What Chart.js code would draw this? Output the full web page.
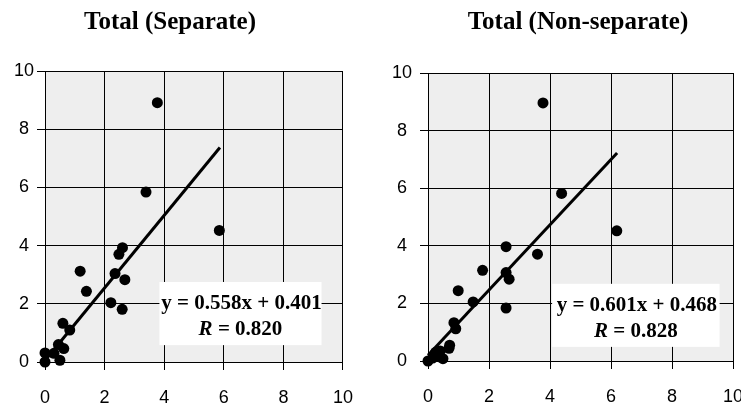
<!DOCTYPE html>
<html>
<head>
<meta charset="utf-8">
<script src="https://cdn.jsdelivr.net/npm/chart.js@4/dist/chart.umd.min.js"></script>
<style>
  html, body { margin: 0; padding: 0; background: #fff; overflow: hidden; }
  #wrap { position: relative; width: 741px; height: 403px; overflow: hidden; }
  canvas { position: absolute; top: 0; }
  #sep { left: 0; }
  #nonsep { left: 370px; }
</style>
</head>
<body>
<div id="wrap">
  <canvas id="sep" width="370" height="403"></canvas>
  <canvas id="nonsep" width="400" height="403"></canvas>
</div>
<script>
// tick values shared by both axes of both panels
const axisTicks = [0, 2, 4, 6, 8, 10];

// Total (Separate)
const sepTitle = "Total (Separate)";
const sepX = [3.77, 3.39, 5.85, 2.60, 2.48, 1.18, 2.35, 2.68, 1.39, 2.21, 2.59, 0.60, 0.83, 0.00, 0.00, 0.45, 0.63, 0.50, 0.30];
const sepY = [8.91, 5.84, 4.52, 3.93, 3.70, 3.12, 3.04, 2.83, 2.43, 2.04, 1.81, 1.33, 1.10, 0.31, 0.00, 0.60, 0.46, 0.06, 0.30];
const sepFitX = [0, 5.87];
const sepFitY = [0.05, 7.37];
const sepEquation = "y = 0.558x + 0.401";
const sepR = "0.820";

// Total (Non-separate)
const nonTitle = "Total (Non-separate)";
const nonX = [3.77, 4.38, 6.19, 2.56, 3.59, 1.79, 2.56, 2.66, 0.99, 1.48, 2.56, 0.85, 0.91, 0.71, 0.69, 0.49, 0.00, 0.25, 0.40, 0.15, 0.35];
const nonY = [8.96, 5.82, 4.52, 3.97, 3.71, 3.15, 3.07, 2.84, 2.44, 2.05, 1.84, 1.33, 1.12, 0.55, 0.44, 0.08, 0.00, 0.30, 0.35, 0.10, 0.15];
const nonFitX = [0, 6.2];
const nonFitY = [0.2, 7.22];
const nonEquation = "y = 0.601x + 0.468";
const nonR = "0.828";

const tickFont = { family: "'Liberation Sans', sans-serif", size: 18 };
const serif = "'Liberation Serif', 'Times New Roman', serif";

// grey plot background, title, and the white equation box
const panelPlugin = {
  id: "panel",
  beforeDraw(chart) {
    const a = chart.chartArea, ctx = chart.ctx;
    ctx.save();
    ctx.fillStyle = "#eeeeee";
    ctx.fillRect(a.left, a.top, a.right - a.left, a.bottom - a.top);
    ctx.restore();
  },
  afterDraw(chart, args, opts) {
    const ctx = chart.ctx;
    ctx.save();
    ctx.fillStyle = "#000";
    ctx.font = "bold 25px " + serif;
    ctx.textAlign = "center";
    ctx.textBaseline = "alphabetic";
    ctx.fillText(opts.title, opts.titleX, 29);

    const xs = chart.scales.x, ys = chart.scales.y;
    const l = xs.getPixelForValue(opts.box[0]), r = xs.getPixelForValue(opts.box[1]);
    const t = ys.getPixelForValue(opts.box[2]), b = ys.getPixelForValue(opts.box[3]);
    ctx.fillStyle = "#fff";
    ctx.fillRect(l, t, r - l, b - t);
    const cx = (l + r) / 2;
    ctx.fillStyle = "#000";
    ctx.font = "bold 21px " + serif;
    ctx.textAlign = "center";
    ctx.fillText(opts.equation, cx + 1, t + 27);
    // "R = 0.820" with italic R
    const rest = " = " + opts.r;
    ctx.font = "italic bold 21px " + serif;
    const wR = ctx.measureText("R").width;
    ctx.font = "bold 21px " + serif;
    const wRest = ctx.measureText(rest).width;
    const x0 = cx - (wR + wRest) / 2;
    ctx.textAlign = "left";
    ctx.font = "italic bold 21px " + serif;
    ctx.fillText("R", x0, t + 53);
    ctx.font = "bold 21px " + serif;
    ctx.fillText(rest, x0 + wR, t + 53);
    ctx.restore();
  }
};

function makePanel(id, xs, ys, fitX, fitY, cfg) {
  const pts = xs.map((x, i) => ({ x: x, y: ys[i] }));
  const fit = fitX.map((x, i) => ({ x: x, y: fitY[i] }));
  const axis = (extra) => Object.assign({
    type: "linear",
    min: 0,
    max: 10,
    afterBuildTicks: (s) => { s.ticks = axisTicks.map(v => ({ value: v })); },
    grid: { color: "#000", lineWidth: 1, tickLength: 8, tickColor: "#000" },
    border: { color: "#000", width: 1 },
    ticks: { color: "#000", font: tickFont }
  }, extra);

  return new Chart(document.getElementById(id), {
    type: "scatter",
    data: {
      datasets: [
        {
          data: pts,
          backgroundColor: "#000",
          borderWidth: 0,
          pointRadius: 5.5,
          clip: false
        },
        {
          type: "line",
          data: fit,
          borderColor: "#000",
          borderWidth: 3,
          pointRadius: 0,
          fill: false,
          clip: false
        }
      ]
    },
    options: {
      responsive: false,
      animation: false,
      layout: { padding: cfg.padding },
      plugins: {
        legend: { display: false },
        tooltip: { enabled: false },
        panel: cfg.panel
      },
      scales: {
        x: axis({
          position: "bottom",
          ticks: { color: "#000", font: tickFont, padding: 17, maxRotation: 0 },
          afterFit: (s) => { s.height = cfg.xHeight; }
        }),
        y: axis({
          position: "left",
          ticks: { color: "#000", font: tickFont, padding: cfg.yPad, crossAlign: "center" },
          afterFit: (s) => { s.width = cfg.yWidth; }
        })
      }
    },
    plugins: [panelPlugin]
  });
}

makePanel("sep", sepX, sepY, sepFitX, sepFitY, {
  padding: { left: 0, top: 71, right: 20, bottom: 0 },
  xHeight: 41,
  yWidth: 45,
  yPad: 3,
  panel: { title: sepTitle, titleX: 170, equation: sepEquation, r: sepR, box: [3.84, 9.28, 2.75, 0.58] }
});

makePanel("nonsep", nonX, nonY, nonFitX, nonFitY, {
  padding: { left: 0, top: 73, right: 37, bottom: 0 },
  xHeight: 42,
  yWidth: 58,
  yPad: 8,
  panel: { title: nonTitle, titleX: 208, equation: nonEquation, r: nonR, box: [4.07, 9.56, 2.68, 0.49] }
});
</script>
</body>
</html>
